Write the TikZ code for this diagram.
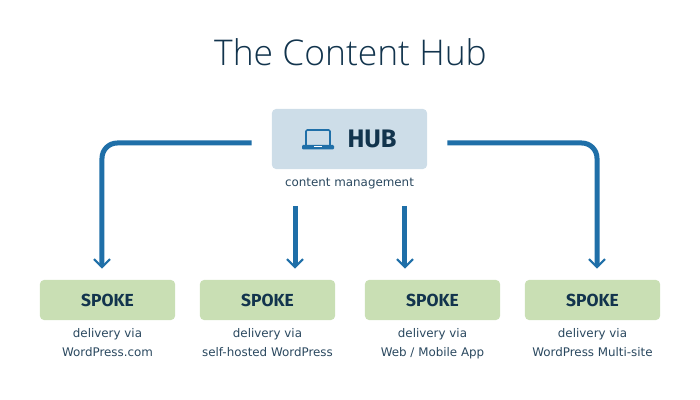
\documentclass[tikz,border=0pt]{standalone}
\usepackage{fontspec}
\setmainfont{DejaVu Sans}
\newfontfamily\titlefont{Open Sans Light}
\newfontfamily\boxfont{Fira Sans}
\usetikzlibrary{positioning,arrows.meta}
\definecolor{hubfill}{HTML}{CDDDE8}
\definecolor{spokefill}{HTML}{C9DFB4}
\definecolor{flowblue}{HTML}{1F6FA8}
\definecolor{inkblue}{HTML}{12344D}
\tikzset{
	hubbox/.style={fill=hubfill,rounded corners=0.1cm,minimum width=3.875cm,minimum height=1.5cm},
	spokebox/.style={fill=spokefill,rounded corners=0.1cm,minimum width=3.375cm,minimum height=1cm,
		text=inkblue,font=\boxfont\bfseries\fontsize{12.4}{14}\selectfont},
	caption/.style={align=center,inner sep=0pt,text=inkblue!90!white,font=\fontsize{8.45}{13.5}\selectfont},
	flow/.style={draw=flowblue,line width=0.125cm,rounded corners=0.38cm,
		-{Straight Barb[length=0.2cm,width=0.4cm,line width=0.055cm]}}
}
\begin{document}
\begin{tikzpicture}[x=0.025cm,y=-0.025cm]
	\useasboundingbox (0,0) rectangle (700,400);
	%Title
	\node (title) at (350.5,52.5) {\titlefont\fontsize{25.2}{30}\selectfont\textcolor{inkblue}{The Content Hub}};
	%The hub
	\node [hubbox] (hub) at (349.5,139) {};
	\node [text=inkblue,font=\boxfont\bfseries\fontsize{18}{20}\selectfont] (hubname) at (372,139) {HUB};
	\node [caption,below=0.22cm of hub] (hubcaption) {content management};
	%Laptop
	\draw [flowblue,line width=0.04cm,rounded corners=0.03cm] (306,145.5) -- (306,130) -- (330,130) -- (330,145.5);
	\fill [flowblue,rounded corners=0.03cm] (302,145) rectangle (334,149.5);
	\draw [white,line width=0.02cm] (314,146.5) -- (322,146.5);
	%The spokes
	\foreach \i/\cx/\rowa/\rowb in {1/107.5/delivery via/WordPress.com,
		2/267.5/delivery via/self-hosted WordPress,
		3/432.5/delivery via/{Web / Mobile App},
		4/592.5/delivery via/WordPress Multi-site} {
		\node [spokebox] (spoke\i) at (\cx,300) {SPOKE};
		\node [caption,below=0.21cm of spoke\i] (spokecaption\i) {\rowa\\\rowb};
	}
	%Connectors
	\draw [flow] ([yshift=-0.1cm,xshift=-0.5cm]hub.west) -| ([xshift=-0.1375cm,yshift=0.275cm]spoke1.north);
	\draw [flow] ([xshift=0.6875cm]spoke2.north |- 0,206) -- ([xshift=0.6875cm,yshift=0.275cm]spoke2.north);
	\draw [flow] ([xshift=-0.6875cm]spoke3.north |- 0,206) -- ([xshift=-0.6875cm,yshift=0.275cm]spoke3.north);
	\draw [flow] ([yshift=-0.1cm,xshift=0.5cm]hub.east) -| ([xshift=0.1125cm,yshift=0.275cm]spoke4.north);
\end{tikzpicture}
\end{document}
